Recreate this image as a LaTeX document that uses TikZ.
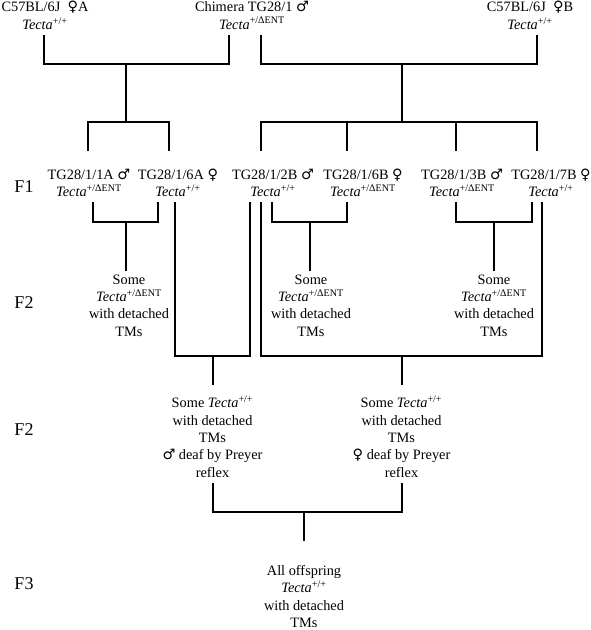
\documentclass[tikz,border=0pt]{standalone}
\usepackage{fontspec}
\setmainfont{Liberation Serif}
\newfontfamily\symfont{DejaVu Sans}
\newcommand{\malesign}{{\symfont\char"2642}}
\newcommand{\femalesign}{{\symfont\char"2640}}
\newcommand{\tecta}[1]{\textit{Tecta}\textsuperscript{#1}}

\begin{document}
\begin{tikzpicture}[x=0.75pt,y=-0.75pt,
    mouse/.style={align=center,inner sep=0pt,font=\fontsize{10.75}{13}\selectfont},
    gen/.style={inner sep=0pt,font=\fontsize{13.5}{16}\selectfont},
    cross/.style={line width=1.3pt}]

    \useasboundingbox (0,0) rectangle (590,630);

    % Parents
    \node[mouse] (wtA) at (45,15.5) {C57BL/6J\enspace\femalesign A\\ \tecta{+/+}};
    \node[mouse] (chim) at (252,15.5) {Chimera TG28/1 \malesign\\ \tecta{+/ΔENT}};
    \node[mouse] (wtB) at (530,15.5) {C57BL/6J\enspace\femalesign B\\ \tecta{+/+}};

    % Generation labels
    \node[gen] (genF1) at (24,186.5) {F1};
    \node[gen] (genF2a) at (24,303) {F2};
    \node[gen] (genF2b) at (24,430) {F2};
    \node[gen] (genF3) at (24,583.5) {F3};

    % F1 animals
    \node[mouse] (tg1A) at (89,183) {TG28/1/1A \malesign\\ \tecta{+/ΔENT}};
    \node[mouse] (tg6A) at (178,183) {TG28/1/6A \femalesign\\ \tecta{+/+}};
    \node[mouse] (tg2B) at (273,183) {TG28/1/2B \malesign\\ \tecta{+/+}};
    \node[mouse] (tg6B) at (363,183) {TG28/1/6B \femalesign\\ \tecta{+/ΔENT}};
    \node[mouse] (tg3B) at (462,183) {TG28/1/3B \malesign\\ \tecta{+/ΔENT}};
    \node[mouse] (tg7B) at (551,183) {TG28/1/7B \femalesign\\ \tecta{+/+}};

    % F2 offspring
    \node[mouse] (hetA) at (129,305.5) {Some\\ \tecta{+/ΔENT}\\ with detached\\ TMs};
    \node[mouse] (hetB) at (311,305.5) {Some\\ \tecta{+/ΔENT}\\ with detached\\ TMs};
    \node[mouse] (hetC) at (494,305.5) {Some\\ \tecta{+/ΔENT}\\ with detached\\ TMs};
    \node[mouse] (wtM) at (212.5,436.5) {Some \tecta{+/+}\\ with detached\\ TMs\\ \malesign{} deaf by Preyer\\ reflex};
    \node[mouse] (wtF) at (401.5,436.5) {Some \tecta{+/+}\\ with detached\\ TMs\\ \femalesign{} deaf by Preyer\\ reflex};

    % F3 offspring
    \node[mouse] (allF3) at (304,596.5) {All offspring\\ \tecta{+/+}\\ with detached\\ TMs};

    % Line ends
    \coordinate (pA) at (44,35);
    \coordinate (pC1) at (229,35);
    \coordinate (pC2) at (261,35);
    \coordinate (pB) at (537,35);
    \coordinate (jA) at (126,64.3);
    \coordinate (jB) at (401.7,64.3);
    \coordinate (kA) at (126,121.7);
    \coordinate (kB) at (401.7,121.7);
    \coordinate (c1A) at (88,151);
    \coordinate (c6A) at (169,151);
    \coordinate (c2B) at (261,151);
    \coordinate (c6B) at (347.3,151);
    \coordinate (c3B) at (456,151);
    \coordinate (c7B) at (537,151);

    \coordinate (x1A) at (93,202);
    \coordinate (x6Aa) at (158,202);
    \coordinate (x6Ab) at (175,202);
    \coordinate (x2Ba) at (250,202);
    \coordinate (x2Bb) at (261,202);
    \coordinate (x2Bc) at (272,202);
    \coordinate (x6B) at (347,202);
    \coordinate (x3B) at (456,202);
    \coordinate (x7Ba) at (531.7,202);
    \coordinate (x7Bb) at (542.3,202);
    \coordinate (qA) at (126,222);
    \coordinate (qB) at (310,222);
    \coordinate (qC) at (494,222);
    \coordinate (rA) at (212.7,355.7);
    \coordinate (rB) at (401.7,355.7);
    \coordinate (eA) at (126,271);
    \coordinate (eB) at (310,271);
    \coordinate (eC) at (494,271);
    \coordinate (eM) at (212.7,385);
    \coordinate (eF) at (401.7,385);

    \coordinate (uM) at (212.7,483);
    \coordinate (uF) at (401.7,483);
    \coordinate (v) at (304,511.7);
    \coordinate (w) at (304,540.7);

    % Crosses to F1
    \draw[cross] (pA) |- (jA) -| (pC1);
    \draw[cross] (jA) -- (kA);
    \draw[cross] (c1A) |- (kA) -| (c6A);
    \draw[cross] (pC2) |- (jB) -| (pB);
    \draw[cross] (jB) -- (kB);
    \draw[cross] (c2B) |- (kB) -| (c7B);
    \draw[cross] (c6B) -- (c6B |- kB);
    \draw[cross] (c3B) -- (c3B |- kB);

    % Crosses to F2
    \draw[cross] (x1A) |- (qA) -| (x6Aa);
    \draw[cross] (qA) -- (eA);
    \draw[cross] (x2Bc) |- (qB) -| (x6B);
    \draw[cross] (qB) -- (eB);
    \draw[cross] (x3B) |- (qC) -| (x7Ba);
    \draw[cross] (qC) -- (eC);
    \draw[cross] (x6Ab) |- (rA) -| (x2Ba);
    \draw[cross] (rA) -- (eM);
    \draw[cross] (x2Bb) |- (rB) -| (x7Bb);
    \draw[cross] (rB) -- (eF);

    % Cross to F3
    \draw[cross] (uM) |- (v) -| (uF);
    \draw[cross] (v) -- (w);
\end{tikzpicture}
\end{document}
